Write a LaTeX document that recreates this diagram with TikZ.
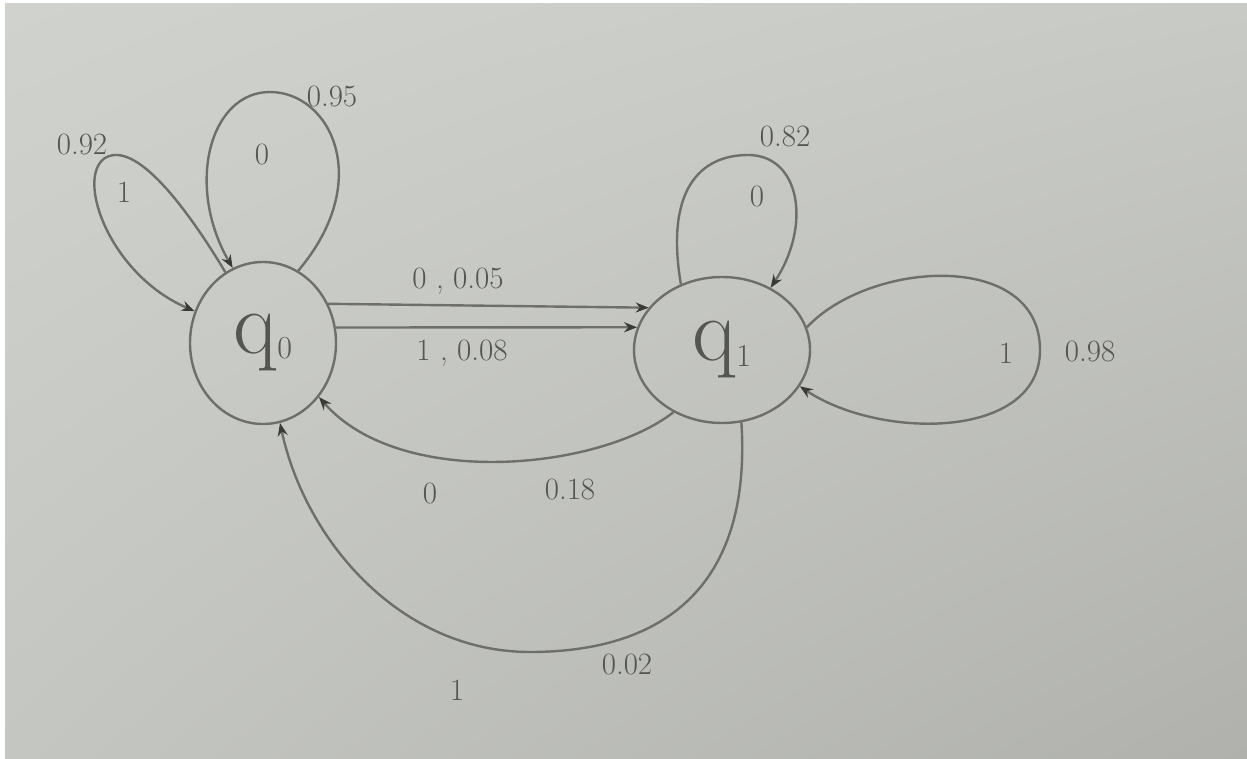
\documentclass[tikz,border=0pt]{standalone}
\usetikzlibrary{shapes.geometric,arrows.meta,shadings}
\definecolor{ink}{HTML}{6E6F6C}
\definecolor{tipc}{HTML}{3A3B38}
\definecolor{txt}{HTML}{555653}
\definecolor{bgul}{HTML}{D0D2CE}
\definecolor{bgur}{HTML}{C8CAC6}
\definecolor{bgll}{HTML}{C4C6C2}
\definecolor{bglr}{HTML}{B0B1AD}
\tikzset{
  state/.style={ellipse,draw=ink,line width=2.4pt,inner sep=0pt,text=txt},
  conn/.style={draw=ink,line width=2.4pt,-{Stealth[length=13pt,width=10pt,color=tipc]}},
  lbl/.style={text=txt,font=\fontsize{31}{33}\selectfont,inner sep=0pt},
}
\begin{document}
\begin{tikzpicture}[x=1pt,y=-1pt]
\useasboundingbox (0,0) rectangle (1247,759);
\fill[white] (0,0) rectangle (1247,759);
\shade[upper left=bgul,upper right=bgur,lower left=bgll,lower right=bglr]
  (5,4) rectangle (1248,760);

\node[state,minimum width=146pt,minimum height=162pt] (q0) at (263,343)
  {{\fontsize{90}{90}\selectfont q}\raisebox{-0.45em}{\fontsize{32}{32}\selectfont 0}};
\node[state,minimum width=176pt,minimum height=146pt] (q1) at (722,350)
  {{\fontsize{90}{90}\selectfont q}\raisebox{-0.55em}{\fontsize{32}{32}\selectfont 1}};

% q0 loops
\draw[conn] (q0.64) .. controls (375,180) and (330,92) .. (270,92)
  .. controls (210,92) and (185,185) .. (q0.112);
\draw[conn] (q0.118) .. controls (185,205) and (135,140) .. (105,158)
  .. controls (75,178) and (110,275) .. (q0.155);

% q0 -> q1
\draw[conn] (q0.31) -- (q1.150);
\draw[conn] (q0.12) -- (q1.165);

% q1 loops
\draw[conn] (q1.122) .. controls (665,190) and (700,155) .. (748,155)
  .. controls (800,155) and (812,225) .. (q1.52);
\draw[conn] (q1.15) .. controls (870,260) and (1040,250) .. (1040,350)
  .. controls (1040,440) and (880,440) .. (q1.-25);

% q1 -> q0
\draw[conn] (q1.232) .. controls (600,470) and (400,490) .. (q0.-44);
\draw[conn] (q1.-75) .. controls (752,590) and (660,652) .. (530,652)
  .. controls (400,652) and (305,540) .. (q0.-78);

% labels
\node[lbl] (l1) at (82,145) {0.92};
\node[lbl] (l2) at (124,192) {1};
\node[lbl] (l3) at (262,155) {0};
\node[lbl] (l4) at (332,97) {0.95};
\node[lbl] (l5) at (458,281) {0 , 0.05};
\node[lbl] (l6) at (462,353) {1 , 0.08};
\node[lbl] (l7) at (785,137) {0.82};
\node[lbl] (l8) at (757,197) {0};
\node[lbl] (l9) at (1006,353) {1};
\node[lbl] (l10) at (1090,352) {0.98};
\node[lbl] (l11) at (430,493) {0};
\node[lbl] (l12) at (570,489) {0.18};
\node[lbl] (l13) at (457,690) {1};
\node[lbl] (l14) at (627,664) {0.02};
\end{tikzpicture}
\end{document}
